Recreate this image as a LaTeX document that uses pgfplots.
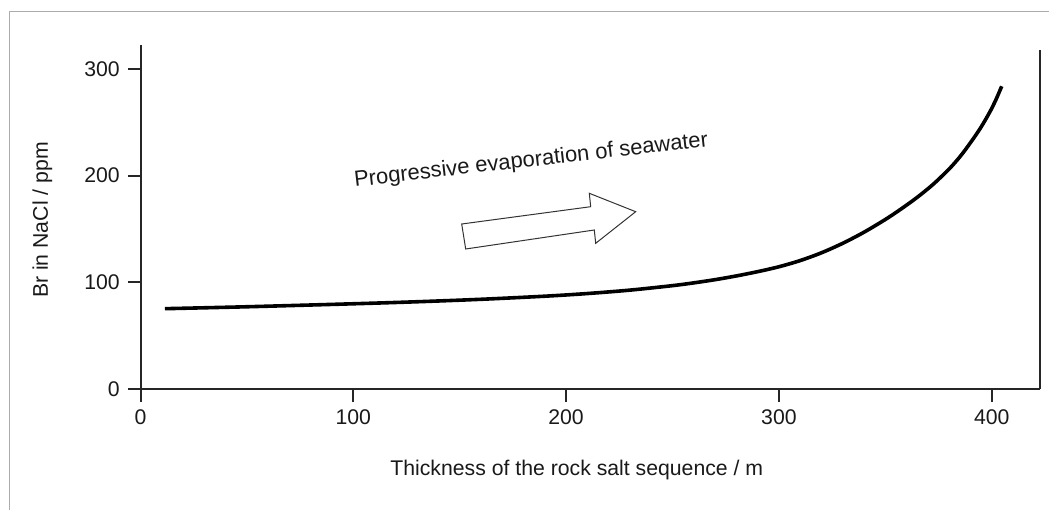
\documentclass[border=0pt]{standalone}
\usepackage{pgfplots}
\pgfplotsset{compat=1.18}
\usepackage{pgfplotstable}
\usepackage{fontspec}
\setmainfont{Liberation Sans}

\newcommand\chartfont{\fontsize{21.3}{25}\selectfont}

% Br content of halite along the rock salt sequence
\pgfplotstableread{
x y
11.5 75.3
50 77.1
100 79.9
130 81.8
160 84.1
190 87.0
210 89.5
230 92.7
250 96.9
260 99.5
270 102.5
280 106.0
290 110.0
300 114.6
310 120.4
320 127.7
330 136.6
340 147.0
350 158.9
357 168.2
364.8 179.4
372.6 192.1
380.4 207.1
385.9 219.8
391.4 234.8
395.3 246.5
399.2 260.0
402 271.3
404.7 283.8
}\brcurve

\begin{document}
\begin{tikzpicture}[font=\chartfont]
\useasboundingbox (0,0) rectangle (1049bp,-510bp);
\begin{scope}[x=1bp,y=-1bp]
  \draw[gray!65, line width=1bp] (1049,11) -- (9,11) -- (9,510);
\end{scope}
\begin{axis}[
  at={(140.5bp,-389bp)}, anchor=south west, scale only axis,
  width=899.5bp, height=344bp,
  xmin=0, xmax=422.7, ymin=0, ymax=322.5,
  axis x line=bottom, axis y line=left,
  axis line style={line width=2bp, -, black!85},
  xtick={0,100,200,300,400}, ytick={0,100,200,300},
  tick align=outside, major tick length=12.5bp,
  tick style={line width=2bp, black!85},
  /pgf/number format/assume math mode=true,
  tick label style={font=\chartfont, text=black!90},
  label style={font=\chartfont, text=black!90},
  xticklabel style={anchor=north, inner sep=0pt, yshift=-8bp},
  yticklabel style={anchor=east, inner sep=0pt, xshift=-8bp},
  xlabel={Thickness of the rock salt sequence / m},
  ylabel={Br in NaCl / ppm},
  xlabel style={at={(axis description cs:0.485,0)}, anchor=base, yshift=-86bp, inner sep=0pt},
  ylabel style={at={(axis description cs:0,0.491)}, anchor=base, yshift=92.5bp, inner sep=0pt},
  clip=false,
]
\addplot[black, line width=3.6bp, smooth] table {\brcurve};
\draw[line width=2bp, black!85] (axis cs:422.7,0) -- (axis cs:422.7,317.8);
\end{axis}
\begin{scope}[x=1bp,y=-1bp]
  \node[anchor=base west, rotate=6.5, inner sep=0pt, text=black!90,
        font=\fontsize{22}{26}\selectfont] at (355,186.7)
    {Progressive evaporation of seawater};
  \draw[black!80, line width=1bp, fill=white]
    (461.7,224) -- (590.7,206.7) -- (589.3,193.3) -- (635.7,211.7)
    -- (595.7,243.3) -- (594.3,230) -- (465.7,249) -- cycle;
\end{scope}
\end{tikzpicture}
\end{document}
